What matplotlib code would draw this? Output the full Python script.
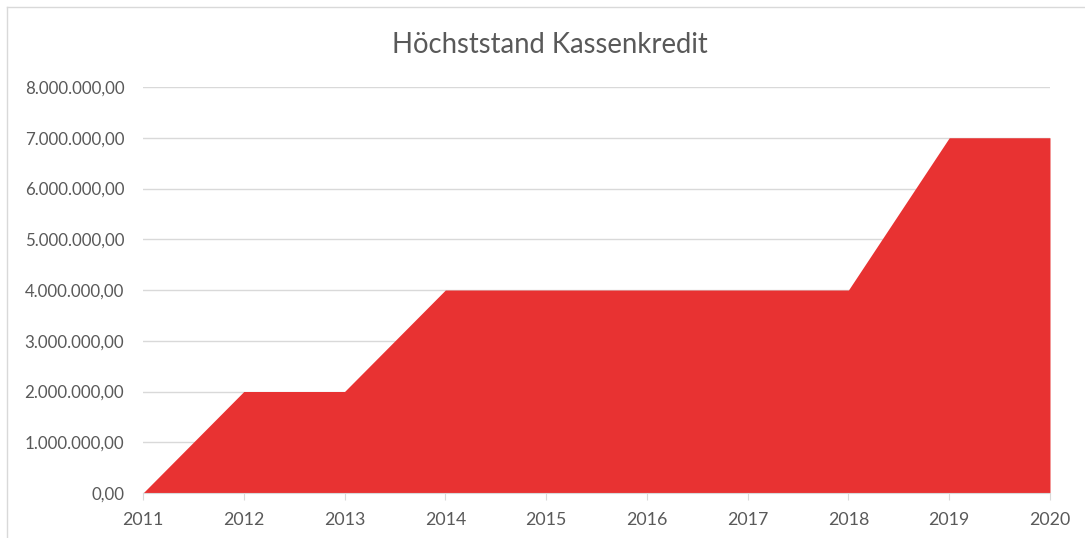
import matplotlib
matplotlib.use("Agg")
import matplotlib.pyplot as plt
from matplotlib.ticker import FuncFormatter

plt.rcParams['font.family'] = ['Lato', 'DejaVu Sans']

# Daten
jahre = [2011, 2012, 2013, 2014, 2015, 2016, 2017, 2018, 2019, 2020]
kassenkredit = [0, 2000000, 2000000, 4000000, 4000000, 4000000, 4000000, 4000000, 7000000, 7000000]
titel = "Höchststand Kassenkredit"

def de_format(v, pos):
    s = f"{v:,.2f}"
    return s.replace(",", "X").replace(".", ",").replace("X", ".")

fig = plt.figure(figsize=(10.85, 5.38), dpi=100)
ax = fig.add_axes([143/1085, 45/538, (1050-143)/1085, (493-87)/538])

ax.fill_between(jahre, kassenkredit, 0, color='#e83232', linewidth=0)

ax.set_xlim(2011, 2020)
ax.set_ylim(0, 8000000)
ax.set_yticks(range(0, 8000001, 1000000))
ax.yaxis.set_major_formatter(FuncFormatter(de_format))
ax.set_xticks(jahre)
ax.grid(axis='y', color='#d9d9d9', linewidth=1)
ax.set_axisbelow(True)

for s in ['top', 'right', 'left']:
    ax.spines[s].set_visible(False)
ax.spines['bottom'].set_color('#d9d9d9')
ax.tick_params(axis='y', length=0, pad=13.5, labelsize=12.2, labelcolor='#595959')
ax.tick_params(axis='x', length=5, color='#d9d9d9', pad=9, labelsize=12.8, labelcolor='#595959')

fig.text(0.507, 1 - 45/538, titel, ha='center', va='center', fontsize=19.8, color='#595959')

# Rahmen des Diagramms (links und oben)
fig.add_artist(plt.Line2D([7/1085, 7/1085], [0, 1 - 7/538], color='#d9d9d9', linewidth=1))
fig.add_artist(plt.Line2D([7/1085, 1], [1 - 7/538, 1 - 7/538], color='#d9d9d9', linewidth=1))

fig.savefig("out.png", dpi=100)
